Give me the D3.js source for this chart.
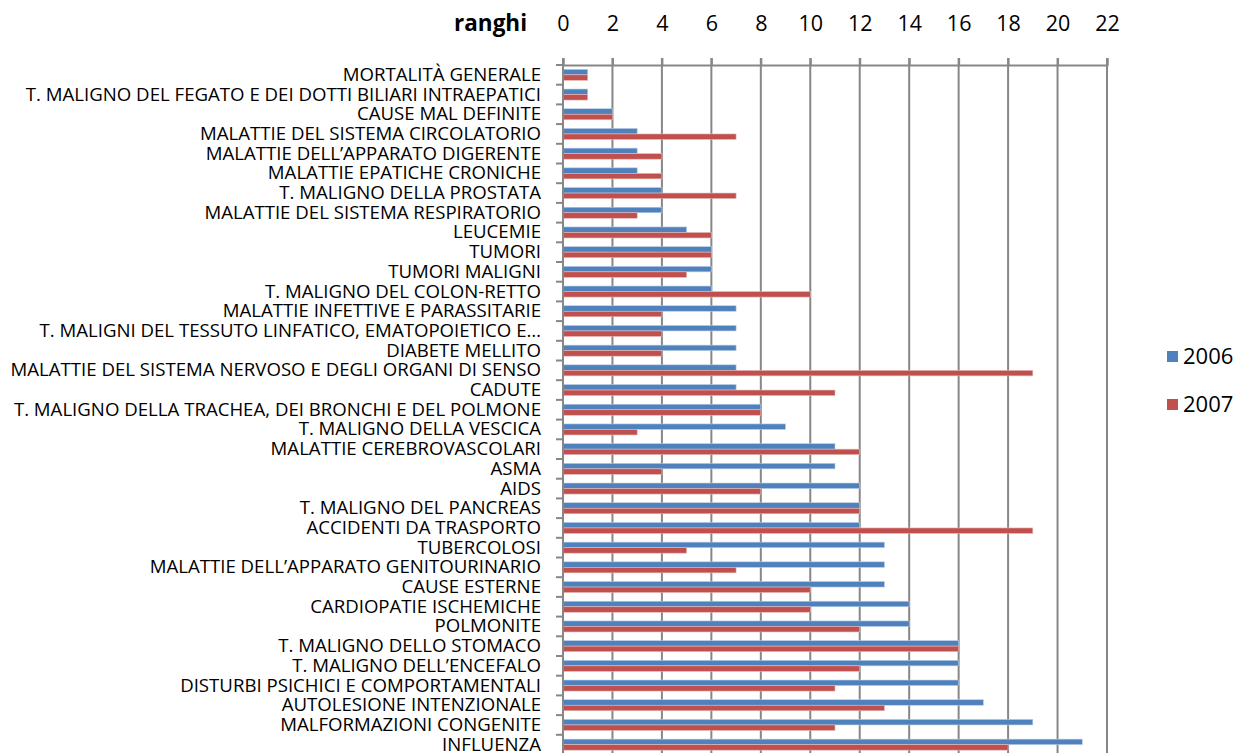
<!DOCTYPE html>
<html>
<head>
    <meta charset="utf-8">
    <title>Ranghi 2006 - 2007</title>
    <script src="https://d3js.org/d3.v7.min.js"></script>
    <style>
        body { margin: 0; background: #fff; }
        text { font-family: "Open Sans", Lato, sans-serif; fill: #000; }
    </style>
</head>
<body>
    <script>
        const categories = [
            "MORTALITÀ GENERALE",
            "T. MALIGNO DEL FEGATO E DEI DOTTI BILIARI INTRAEPATICI",
            "CAUSE MAL DEFINITE",
            "MALATTIE DEL SISTEMA CIRCOLATORIO",
            "MALATTIE DELL’APPARATO DIGERENTE",
            "MALATTIE EPATICHE CRONICHE",
            "T. MALIGNO DELLA PROSTATA",
            "MALATTIE DEL SISTEMA RESPIRATORIO",
            "LEUCEMIE",
            "TUMORI",
            "TUMORI MALIGNI",
            "T. MALIGNO DEL COLON-RETTO",
            "MALATTIE INFETTIVE E PARASSITARIE",
            "T. MALIGNI DEL TESSUTO LINFATICO, EMATOPOIETICO E…",
            "DIABETE MELLITO",
            "MALATTIE DEL SISTEMA NERVOSO E DEGLI ORGANI DI SENSO",
            "CADUTE",
            "T. MALIGNO DELLA TRACHEA, DEI BRONCHI E DEL POLMONE",
            "T. MALIGNO DELLA VESCICA",
            "MALATTIE CEREBROVASCOLARI",
            "ASMA",
            "AIDS",
            "T. MALIGNO DEL PANCREAS",
            "ACCIDENTI DA TRASPORTO",
            "TUBERCOLOSI",
            "MALATTIE DELL’APPARATO GENITOURINARIO",
            "CAUSE ESTERNE",
            "CARDIOPATIE ISCHEMICHE",
            "POLMONITE",
            "T. MALIGNO DELLO STOMACO",
            "T. MALIGNO DELL’ENCEFALO",
            "DISTURBI PSICHICI E COMPORTAMENTALI",
            "AUTOLESIONE INTENZIONALE",
            "MALFORMAZIONI CONGENITE",
            "INFLUENZA"
        ];

        const values2006 = [1, 1, 2, 3, 3, 3, 4, 4, 5, 6, 6, 6, 7, 7, 7, 7, 7, 8, 9, 11, 11, 12, 12, 12, 13, 13, 13, 14, 14, 16, 16, 16, 17, 19, 21];
        const values2007 = [1, 1, 2, 7, 4, 4, 7, 3, 6, 6, 5, 10, 4, 4, 4, 19, 11, 8, 3, 12, 4, 8, 12, 19, 5, 7, 10, 10, 12, 16, 12, 11, 13, 11, 18];

        const series = ["2006", "2007"];
        const colors = ["#4F81BD", "#C0504D"];
        const ticks = d3.range(0, 23, 2);

        const width = 1247, height = 753;
        const plotLeft = 563, plotRight = 1107, plotTop = 65;
        const band = 19.7;
        const plotBottom = plotTop + band * categories.length;

        const svg = d3.select("body").append("svg")
            .attr("width", width)
            .attr("height", height);

        const x = d3.scaleLinear().domain([0, 22]).range([plotLeft, plotRight]);
        const y = d3.scaleBand()
            .domain(categories)
            .range([plotTop, plotBottom])
            .paddingInner(0.44)
            .paddingOuter(0.22);
        const ySub = d3.scaleBand().domain(series).range([0, y.bandwidth()]);

        // griglia verticale
        svg.append("g")
            .selectAll("line")
            .data(ticks.slice(1))
            .join("line")
            .attr("x1", d => x(d)).attr("x2", d => x(d))
            .attr("y1", plotTop - 7).attr("y2", plotBottom)
            .attr("stroke", "#878787").attr("stroke-width", 2);

        // asse superiore
        const xAxis = svg.append("g")
            .attr("transform", `translate(0,${plotTop})`)
            .call(d3.axisTop(x).tickValues(ticks).tickSize(7).tickPadding(27));
        xAxis.select(".domain").attr("stroke", "#878787").attr("stroke-width", 2);
        xAxis.selectAll(".tick line").attr("stroke", "#878787").attr("stroke-width", 2);
        xAxis.selectAll(".tick text").attr("font-size", 21.5).style("font-family", "'Open Sans', sans-serif");

        const title = svg.append("text")
            .attr("x", 527).attr("y", 31)
            .attr("text-anchor", "end")
            .attr("font-size", 24)
            .attr("font-weight", "bold")
            .text("ranghi");
        const tw = title.node().getComputedTextLength();
        title.attr("font-size", 24 * 73 / tw);

        // barre
        const groups = svg.append("g")
            .selectAll("g")
            .data(categories)
            .join("g")
            .attr("transform", d => `translate(0,${y(d)})`);

        groups.selectAll("rect")
            .data((d, i) => [
                { s: "2006", v: values2006[i] },
                { s: "2007", v: values2007[i] }
            ])
            .join("rect")
            .attr("x", x(0))
            .attr("y", d => ySub(d.s))
            .attr("width", d => x(d.v) - x(0))
            .attr("height", ySub.bandwidth())
            .attr("fill", (d, i) => colors[i])
            .attr("stroke", (d, i) => i ? "#e6b9b8" : "#b9cde5")
            .attr("stroke-width", 0.6);

        // asse sinistro
        const yAxis = svg.append("g")
            .attr("transform", `translate(${plotLeft},0)`)
            .call(d3.axisLeft(y).tickSize(0).tickPadding(22));
        yAxis.select(".domain").remove();
        const labels = yAxis.selectAll(".tick text")
            .attr("font-size", 16)
            .style("font-family", "'Open Sans', sans-serif");
        // adatta la dimensione: l'etichetta più lunga va da x=10 a x=541
        const longest = d3.max(labels.nodes(), n => n.getComputedTextLength());
        labels.attr("font-size", 16 * 531 / longest);

        svg.append("line")
            .attr("x1", plotLeft).attr("x2", plotLeft)
            .attr("y1", plotTop - 7).attr("y2", plotBottom)
            .attr("stroke", "#878787").attr("stroke-width", 2);

        svg.append("g")
            .selectAll("line")
            .data(d3.range(categories.length + 1))
            .join("line")
            .attr("x1", plotLeft - 7).attr("x2", plotLeft)
            .attr("y1", i => plotTop + band * i).attr("y2", i => plotTop + band * i)
            .attr("stroke", "#878787").attr("stroke-width", 2);

        // legenda
        const legend = svg.append("g")
            .selectAll("g")
            .data(series)
            .join("g")
            .attr("transform", (d, i) => `translate(1167,${351 + i * 48})`);
        legend.append("rect")
            .attr("width", 11).attr("height", 11)
            .attr("fill", (d, i) => colors[i]);
        legend.append("text")
            .attr("x", 16).attr("y", 13)
            .attr("font-size", 22)
            .text(d => d);
    </script>
</body>
</html>
